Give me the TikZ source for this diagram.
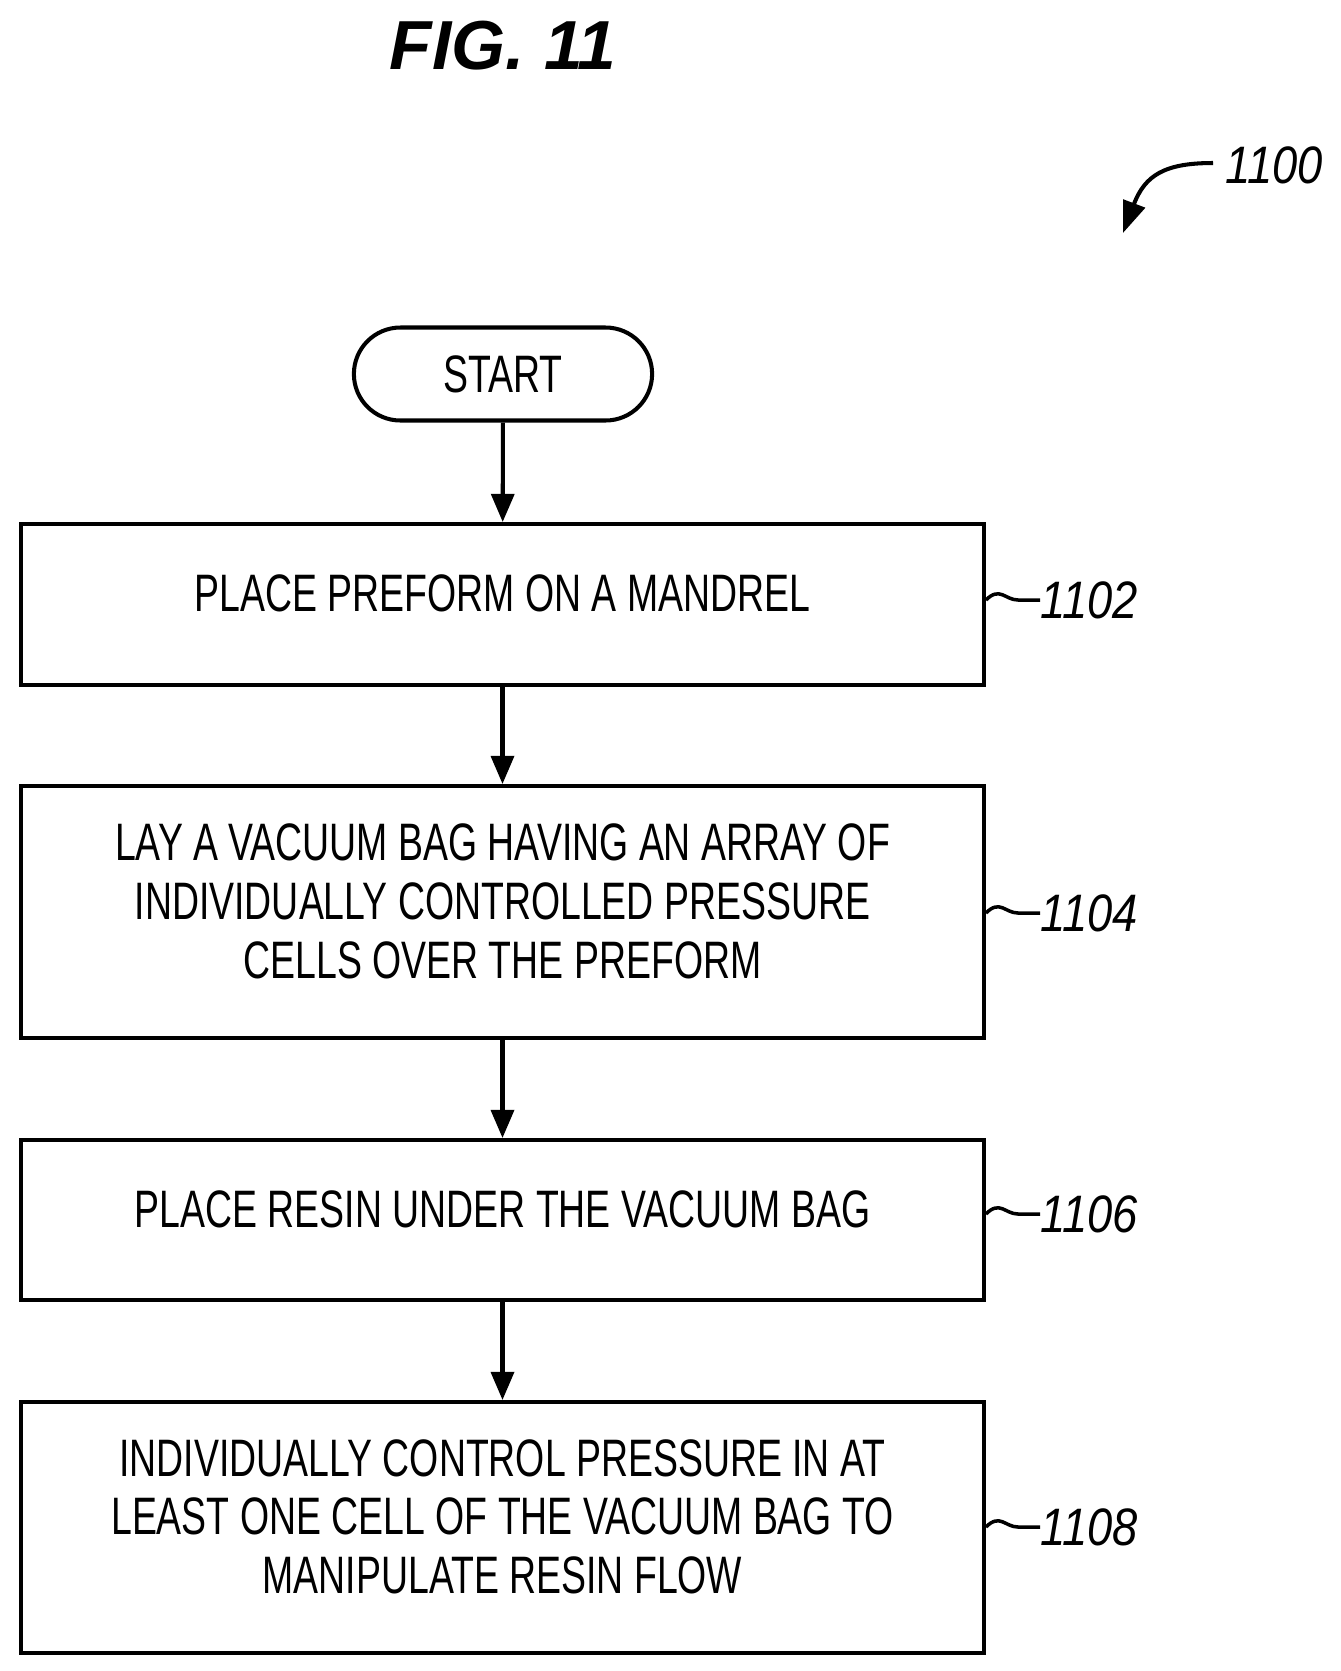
\documentclass[tikz,border=0pt]{standalone}
\usepackage{fontspec}
\setmainfont[FakeStretch=0.71]{Liberation Sans}
\newfontfamily\reffont[FakeStretch=0.86]{Liberation Sans}
\newfontfamily\figfont{Liberation Sans}
\usetikzlibrary{shapes.misc,arrows.meta}

\tikzset{
    procstep/.style={draw, line width=2.3pt, minimum width=19.26cm, align=center,
        text depth=0.44cm, font=\fontsize{30}{33.5}\selectfont},
    flow/.style={line width=2.3pt, -{Triangle[length=16pt,width=13pt]}},
    reflabel/.style={font=\reffont\itshape\fontsize{30}{33}\selectfont, anchor=west, inner sep=0pt}
}

\begin{document}
\begin{tikzpicture}[x=0.02cm, y=-0.02cm]
        % page frame
        \useasboundingbox (0,0) rectangle (1340,1671);
        \node [font=\figfont\bfseries\itshape\fontsize{39.5}{44}\selectfont] (fig) at (503,46) {FIG. 11};

        % reference numeral of the method
        \node [reflabel] (n1100) at (1225,165) {1100};
        \coordinate (a1100) at (1123,233);
        \draw [line width=2.3pt, -{Triangle[length=18pt,width=13pt]}]
            (1213,163) .. controls (1165,163) and (1145,175) .. (a1100);

        % steps
        \node [draw, line width=2.3pt, rounded rectangle, minimum width=6.2cm, minimum height=1.86cm,
            font=\fontsize{30}{33}\selectfont] (start) at (503,374) {START};
        \node [procstep, minimum height=3.22cm] (s1102) at (502.5,604.5) {PLACE PREFORM ON A MANDREL};
        \node [procstep, minimum height=5.04cm] (s1104) at (502.5,912) {LAY A VACUUM BAG HAVING AN ARRAY OF\\INDIVIDUALLY CONTROLLED PRESSURE\\CELLS OVER THE PREFORM};
        \node [procstep, minimum height=3.2cm] (s1106) at (502.5,1220) {PLACE RESIN UNDER THE VACUUM BAG};
        \node [procstep, minimum height=5.02cm] (s1108) at (502.5,1527.5) {INDIVIDUALLY CONTROL PRESSURE IN AT\\LEAST ONE CELL OF THE VACUUM BAG TO\\MANIPULATE RESIN FLOW};

        % arrows
        \draw [flow] (start) -- (s1102);
        \draw [flow] (s1102) -- (s1104);
        \draw [flow] (s1104) -- (s1106);
        \draw [flow] (s1106) -- (s1108);

        % step numerals with tildes
        \foreach \s/\y in {1102/600, 1104/913, 1106/1214, 1108/1527} {
            \node [reflabel] (l\s) at (1040,\y) {\s};
            \draw [line width=2pt] (s\s.east |- 0,\y) .. controls (1000,\y-14) and (1005,\y) .. (1018,\y)
                .. controls (1028,\y) .. (l\s.west);
        }
\end{tikzpicture}
\end{document}
